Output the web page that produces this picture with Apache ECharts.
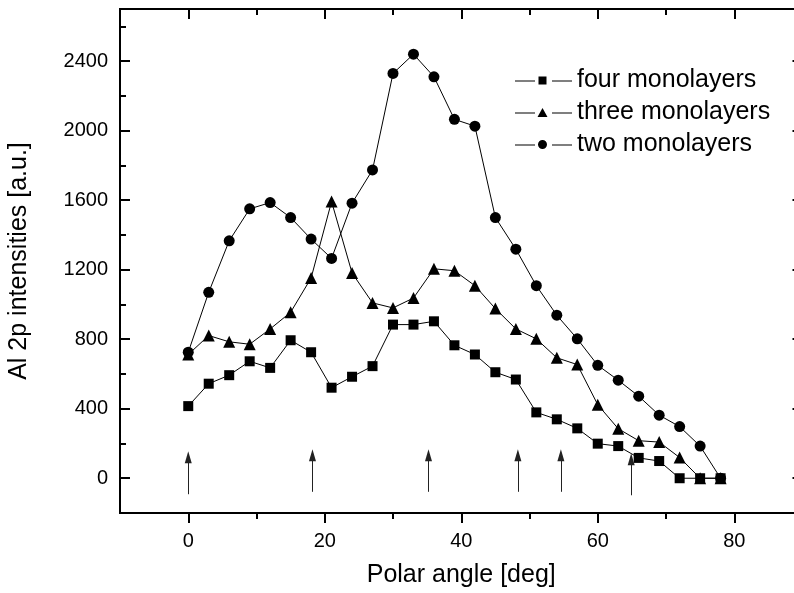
<!DOCTYPE html>
<html>
<head>
<meta charset="utf-8">
<script src="https://cdn.jsdelivr.net/npm/echarts@6/dist/echarts.min.js"></script>
<style>html,body{margin:0;padding:0;background:#fff}#c{width:794px;height:593px}</style>
</head>
<body>
<div id="c"></div>
<script>
const angles = [0,3,6,9,12,15,18,21,24,27,30,33,36,39,42,45,48,51,54,57,60,63,66,69,72,75,78];
const fourML  = [415,544,593,673,635,794,725,521,584,645,884,884,903,765,712,610,568,379,339,287,199,185,117,99,0,0,0];
const threeML = [712,821,785,771,859,955,1152,1592,1181,1009,980,1037,1205,1194,1108,976,859,802,693,654,423,285,216,208,119,0,0];
const twoML   = [725,1070,1366,1550,1586,1500,1376,1265,1583,1774,2329,2440,2310,2065,2026,1500,1318,1108,938,802,650,564,472,363,297,185,0];
const seriesNames = ['four monolayers','three monolayers','two monolayers'];
const xTicks = [0,20,40,60,80];
const xMinorTicks = [10,30,50,70];
const yTicks = [0,400,800,1200,1600,2000,2400];
const yMinorTicks = [200,600,1000,1400,1800,2200,2600];
const arrowAngles = [0,18.2,35.2,48.3,54.6,64.9];
const arrowTop    = [121,133,133,133,133,109];
const arrowBottom = [-92,-78,-78,-78,-78,-98];
const xTitle = 'Polar angle [deg]';
const yTitle = 'Al 2p intensities [a.u.]';

const FONT = "'Liberation Sans', Arial, sans-serif";
const X_MIN = -10, X_MAX = 90, Y_MIN = -200, Y_MAX = 2700;

function xAx(pos, ticks, len, inside, opts) {
  return Object.assign({
    type: 'value', position: pos, min: X_MIN, max: X_MAX, gridIndex: 0,
    axisLine: { show: true, onZero: false, lineStyle: { color: '#000', width: 2 } },
    axisTick: { show: true, inside: inside, length: len, customValues: ticks, lineStyle: { color: '#000', width: 2 } },
    axisLabel: { show: false },
    splitLine: { show: false }
  }, opts || {});
}
function yAx(pos, ticks, len, inside, opts) {
  return Object.assign({
    type: 'value', position: pos, min: Y_MIN, max: Y_MAX, gridIndex: 0,
    axisLine: { show: true, onZero: false, lineStyle: { color: '#000', width: 2 } },
    axisTick: { show: true, inside: inside, length: len, customValues: ticks, lineStyle: { color: '#000', width: 2 } },
    axisLabel: { show: false },
    splitLine: { show: false }
  }, opts || {});
}

const symbols = ['rect','triangle','circle'];
const sizes = [10,12,11];
const dataSets = [fourML, threeML, twoML];

// legend icons: line - marker - line, in a 57-wide box
const LINE_L = 'M0,5.5 L20,5.5 L20,6.5 L0,6.5 Z ';
const LINE_R = 'M37,5.5 L57,5.5 L57,6.5 L37,6.5 Z ';
const legendIcons = [
  'path://' + LINE_L + 'M23.5,1.5 L31.5,1.5 L31.5,9.5 L23.5,9.5 Z ' + LINE_R,
  'path://' + LINE_L + 'M27.5,1 L32.5,10 L22.5,10 Z ' + LINE_R,
  'path://' + LINE_L + 'M23,5.5 A4.5,4.5 0 1,1 32,5.5 A4.5,4.5 0 1,1 23,5.5 Z ' + LINE_R
];

const series = dataSets.map((vals, k) => ({
  name: seriesNames[k],
  type: 'line',
  xAxisIndex: 0, yAxisIndex: 0,
  data: angles.map((a, i) => [a, vals[i]]),
  symbol: symbols[k],
  symbolSize: sizes[k],
  showSymbol: true,
  itemStyle: { color: '#000' },
  lineStyle: { color: '#000', width: 1 },
  z: 3
}));

series.push({
  type: 'line',
  xAxisIndex: 0, yAxisIndex: 0,
  data: [],
  silent: true,
  markLine: {
    silent: true,
    symbol: ['none', 'triangle'],
    symbolSize: [7, 12],
    label: { show: false },
    lineStyle: { color: '#222', width: 1, type: 'solid' },
    itemStyle: { color: '#000' },
    data: arrowAngles.map((a, i) => [{ coord: [a, arrowBottom[i]] }, { coord: [a, arrowTop[i]] }])
  }
});

const option = {
  animation: false,
  backgroundColor: '#fff',
  textStyle: { fontFamily: FONT },
  grid: { left: 120, top: 9, width: 682.5, bottom: 80, containLabel: false, outerBoundsMode: 'none' },
  legend: {
    orient: 'vertical',
    left: 510, top: 63,
    itemWidth: 57, itemHeight: 11,
    itemGap: 7,
    data: seriesNames.map((n, k) => ({ name: n, icon: legendIcons[k] })),
    textStyle: { fontFamily: FONT, fontSize: 25, color: '#000' },
    inactiveColor: '#000'
  },
  xAxis: [
    xAx('bottom', xTicks, 10, false, {
      axisLabel: { show: true, customValues: xTicks, fontSize: 20, color: '#000', margin: 18, fontFamily: FONT,
                   formatter: v => String(v) },
      name: xTitle, nameLocation: 'middle', nameGap: 50,
      nameTextStyle: { fontSize: 25, color: '#000', fontFamily: FONT }
    }),
    xAx('bottom', xMinorTicks, 6, false),
    xAx('top', xTicks, 10, true),
    xAx('top', xMinorTicks, 6, true)
  ],
  yAxis: [
    yAx('left', yTicks, 10, true, {
      axisLabel: { show: true, customValues: yTicks, fontSize: 20, color: '#000', margin: 12, fontFamily: FONT,
                   formatter: v => String(v) },
      name: yTitle, nameLocation: 'middle', nameGap: 88,
      nameTextStyle: { fontSize: 25, color: '#000', fontFamily: FONT }
    }),
    yAx('left', yMinorTicks, 6, true),
    yAx('right', yTicks, 10, true),
    yAx('right', yMinorTicks, 6, true)
  ],
  series: series
};

const chart = echarts.init(document.getElementById('c'), null, { renderer: 'canvas' });
chart.setOption(option);
</script>
</body>
</html>
